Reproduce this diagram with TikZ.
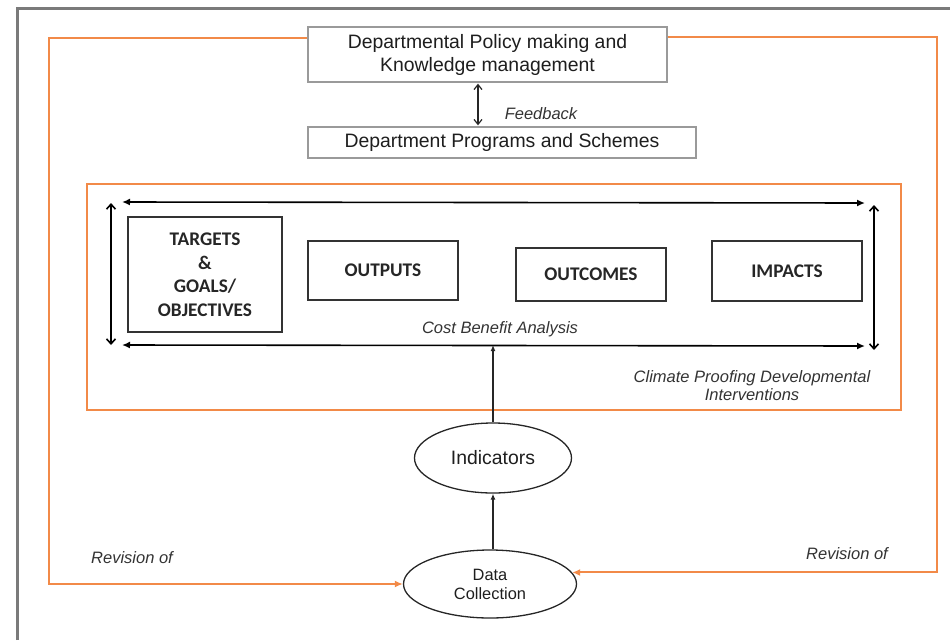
\documentclass[tikz,border=0pt]{standalone}
\usepackage{fontspec}
\setmainfont{Liberation Sans}
\newfontfamily\calfont{Carlito}
\usetikzlibrary{arrows.meta,shapes.geometric}
\definecolor{orng}{HTML}{F28A48}
\definecolor{frame}{HTML}{7A7A7A}
\definecolor{boxgray}{HTML}{9A9A9A}
\definecolor{txt}{HTML}{1E1E1E}
\tikzset{
  x=1pt, y=-1pt,
  topbox/.style={draw=boxgray, line width=1.3pt, fill=white, inner sep=0pt, align=center, text=txt,
    font=\fontsize{19.4}{23}\selectfont},
  kbox/.style={draw=black!80, line width=1.6pt, fill=white, inner sep=0pt, align=center, text=black!85,
    font=\calfont\bfseries\fontsize{19.3}{23.5}\selectfont},
  oval/.style={draw=black!85, line width=1.3pt, ellipse, inner sep=0pt, align=center, text=txt},
  lbl/.style={font=\itshape\fontsize{16.5}{18}\selectfont, text=black!80, inner sep=0pt, align=center},
  blk/.style={draw=black, line width=1.6pt},
  orgline/.style={draw=orng, line width=2pt},
}
\begin{document}
\begin{tikzpicture}
\useasboundingbox (0,0) rectangle (950,640);
% frame
\draw[frame, line width=3pt] (17,640) -- (17,8) -- (950,8);

% top boxes
\node[topbox, minimum width=359pt, minimum height=55pt] (pol) at (487.5,54.5)
  {Departmental Policy making and\\Knowledge management};
\node[topbox, minimum width=388pt, minimum height=31pt] (prog) at (502,142.5)
  {Department Programs and Schemes};
\coordinate (fbx) at (478,0);
\draw[black!85, line width=1.2pt, {Straight Barb[length=5pt,width=8pt]}-{Straight Barb[length=5pt,width=8pt]}]
  ([yshift=-1pt]pol.south -| fbx) -- ([yshift=1pt]prog.north -| fbx);
\node[lbl] (fb) at (541,114) {Feedback};

% climate proofing frame
\draw[orgline] (87,184) rectangle (901,410);
\node[lbl] (cp) at (752,386) {Climate Proofing Developmental\\Interventions};

% arrows inside
\coordinate (tl) at (122,202);
\coordinate (tr) at (865,203);
\coordinate (bl) at (122,345);
\coordinate (br) at (865,346);
\draw[blk, {Latex[length=8pt,width=7pt]}-{Latex[length=8pt,width=7pt]}] (tl) -- (tr);
\draw[blk, {Latex[length=8pt,width=7pt]}-{Latex[length=8pt,width=7pt]}] (bl) -- (br);
\coordinate (lt) at (111,203);
\coordinate (lb) at (111,345);
\coordinate (rt) at (874,205);
\coordinate (rb) at (874,350);
\draw[blk, {Straight Barb[length=5pt,width=9pt]}-{Straight Barb[length=5pt,width=9pt]}] (lt) -- (lb);
\draw[blk, {Straight Barb[length=5pt,width=9pt]}-{Straight Barb[length=5pt,width=9pt]}] (rt) -- (rb);

% boxes
\node[kbox, minimum width=154pt, minimum height=115pt] (tgt) at (205,274.5)
  {TARGETS\\\&\\GOALS/\\OBJECTIVES};
\node[kbox, minimum width=150pt, minimum height=59pt] (out) at (383,270.5) {OUTPUTS};
\node[kbox, minimum width=150pt, minimum height=53pt] (outc) at (591,274.5) {OUTCOMES};
\node[kbox, minimum width=150pt, minimum height=60pt] (imp) at (787,271) {IMPACTS};
\node[lbl] (cba) at (500,329) {Cost Benefit Analysis};

% ellipses
\node[oval, minimum width=157pt, minimum height=70pt, font=\fontsize{19.4}{23}\selectfont] (ind) at (493,458) {Indicators};
\node[oval, minimum width=173pt, minimum height=68pt, font=\fontsize{16.4}{19}\selectfont] (dc) at (490,584) {Data\\Collection};

\draw[black!85, line width=1.3pt, -{Latex[length=6pt,width=5pt]}] (ind.south |- dc.north) -- (ind.south);
\draw[black!85, line width=1.3pt, -{Latex[length=6pt,width=5pt]}] (ind.north) -- (ind.north |- bl);

% orange revision loops
\coordinate (ol) at (49,38);
\coordinate (or) at (937,37);
\draw[orgline, -{Latex[length=8pt,width=7pt]}] (pol.west |- ol) -- (ol) -- (ol |- dc.west) -- (dc.west);
\draw[orgline, -{Latex[length=8pt,width=7pt]}] (pol.east |- or) -- (or) -- (or |- dc.8) -- (dc.8);
\node[lbl] (rl) at (132,558) {Revision of};
\node[lbl] (rr) at (847,554) {Revision of};
\end{tikzpicture}
\end{document}
